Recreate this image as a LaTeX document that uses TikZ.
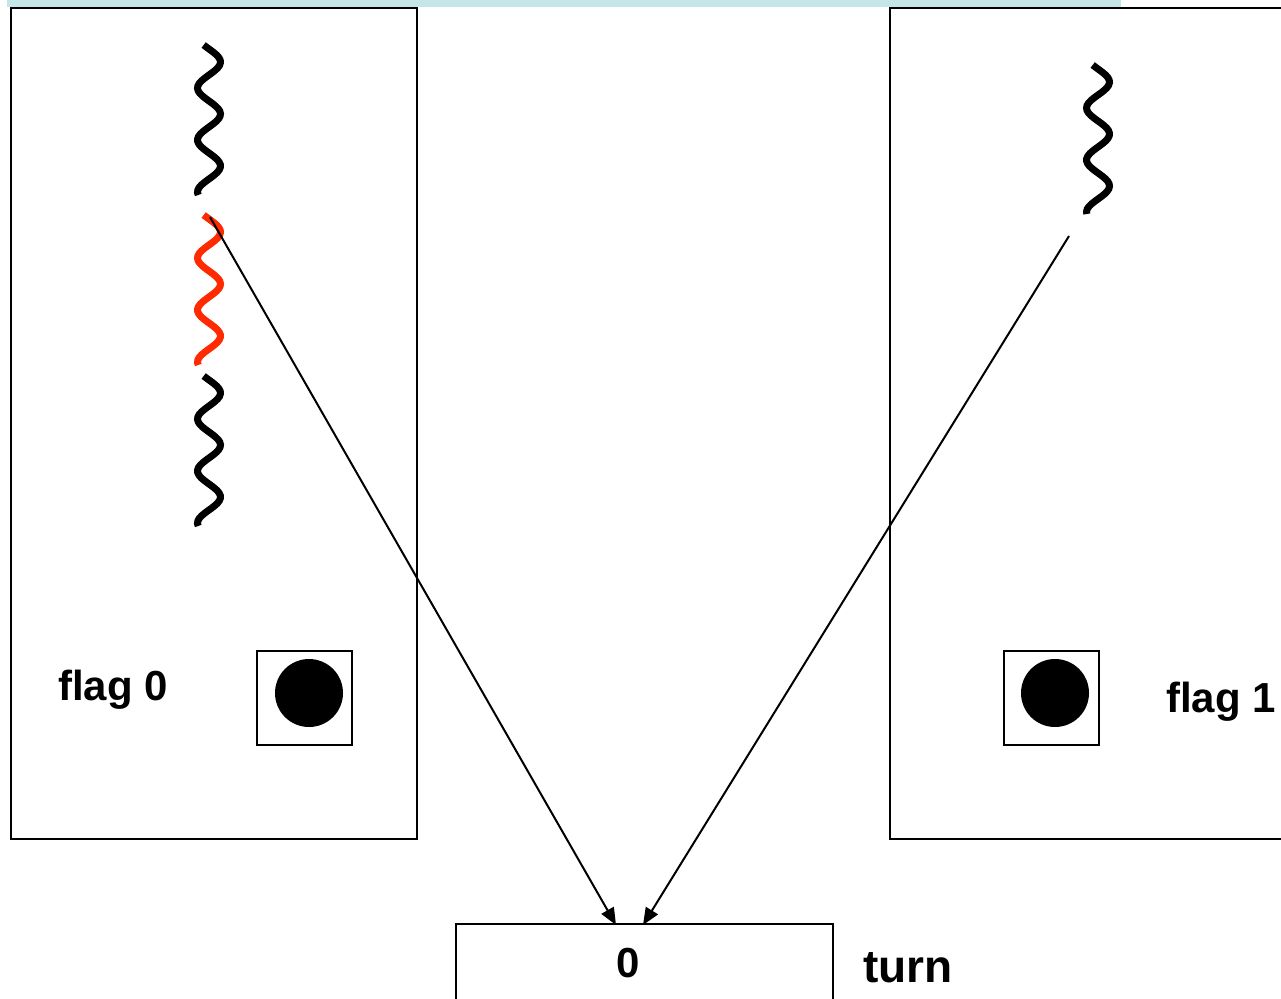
\documentclass[tikz,border=0pt]{standalone}
\usepackage{fontspec}
\setmainfont{Liberation Sans}
\usetikzlibrary{arrows.meta}
\definecolor{bandcyan}{HTML}{C5E6E8}
\definecolor{squigred}{HTML}{FF2A00}
\begin{document}
\begin{tikzpicture}[x=1pt,y=-1pt,
  proc/.style={draw, line width=2.2pt, inner sep=0pt, anchor=center},
  flagbox/.style={draw, line width=2pt, inner sep=0pt, minimum width=95pt, minimum height=94pt},
  dot/.style={circle, fill=black, inner sep=0pt, minimum size=68pt},
  squig/.style={line width=7pt},
  conn/.style={line width=2pt, -{Triangle[length=17pt,width=14pt]}},
  lbl/.style={font=\fontsize{42}{48}\selectfont\bfseries, inner sep=0pt}
]
\useasboundingbox (0,0) rectangle (1281,998);
\fill[bandcyan] (7,0) rectangle (1121,7);
% process boxes
\node[proc, minimum width=406pt, minimum height=831pt] (p0) at (214,423.5) {};
\node[proc, minimum width=400pt, minimum height=831pt] (p1) at (1090,423.5) {};
\node[proc, minimum width=377pt, minimum height=90pt] (turnbox) at (644.5,969) {};
% flags
\node[flagbox] (f0) at (304.5,698) {};
\node[dot] (d0) at (309,693) {};
\node[flagbox] (f1) at (1051.5,698) {};
\node[dot] (d1) at (1055,693) {};
\node[lbl, anchor=base west] (t0) at (58,700) {flag 0};
\node[lbl, anchor=base west] (t1) at (1166,712) {flag 1};
\node[lbl, anchor=base] (tv) at (628,977) {0};
\node[lbl, font=\fontsize{46}{52}\selectfont\bfseries, anchor=base west] (tt) at (863,982) {turn};
% squiggles
\draw[squig] plot[smooth, domain=0:150, samples=60] ({209+11.5*sin(6.923*(\x-4))}, {45+\x});
\draw[squig, squigred] plot[smooth, domain=0:150, samples=60] ({209+11.5*sin(6.923*(\x-4))}, {215+\x});
\draw[squig] plot[smooth, domain=0:150, samples=60] ({209+11.5*sin(6.923*(\x-4))}, {376+\x});
\draw[squig] plot[smooth, domain=0:149, samples=60] ({1098+11.5*sin(6.923*(\x-4))}, {65+\x});
% connectors
\coordinate (s0) at (210,217);
\coordinate (s1) at (1069,236);
\coordinate (e0) at (616,925);
\coordinate (e1) at (643,925);
\draw[conn] (s0) -- (e0);
\draw[conn] (s1) -- (e1);
\end{tikzpicture}
\end{document}
